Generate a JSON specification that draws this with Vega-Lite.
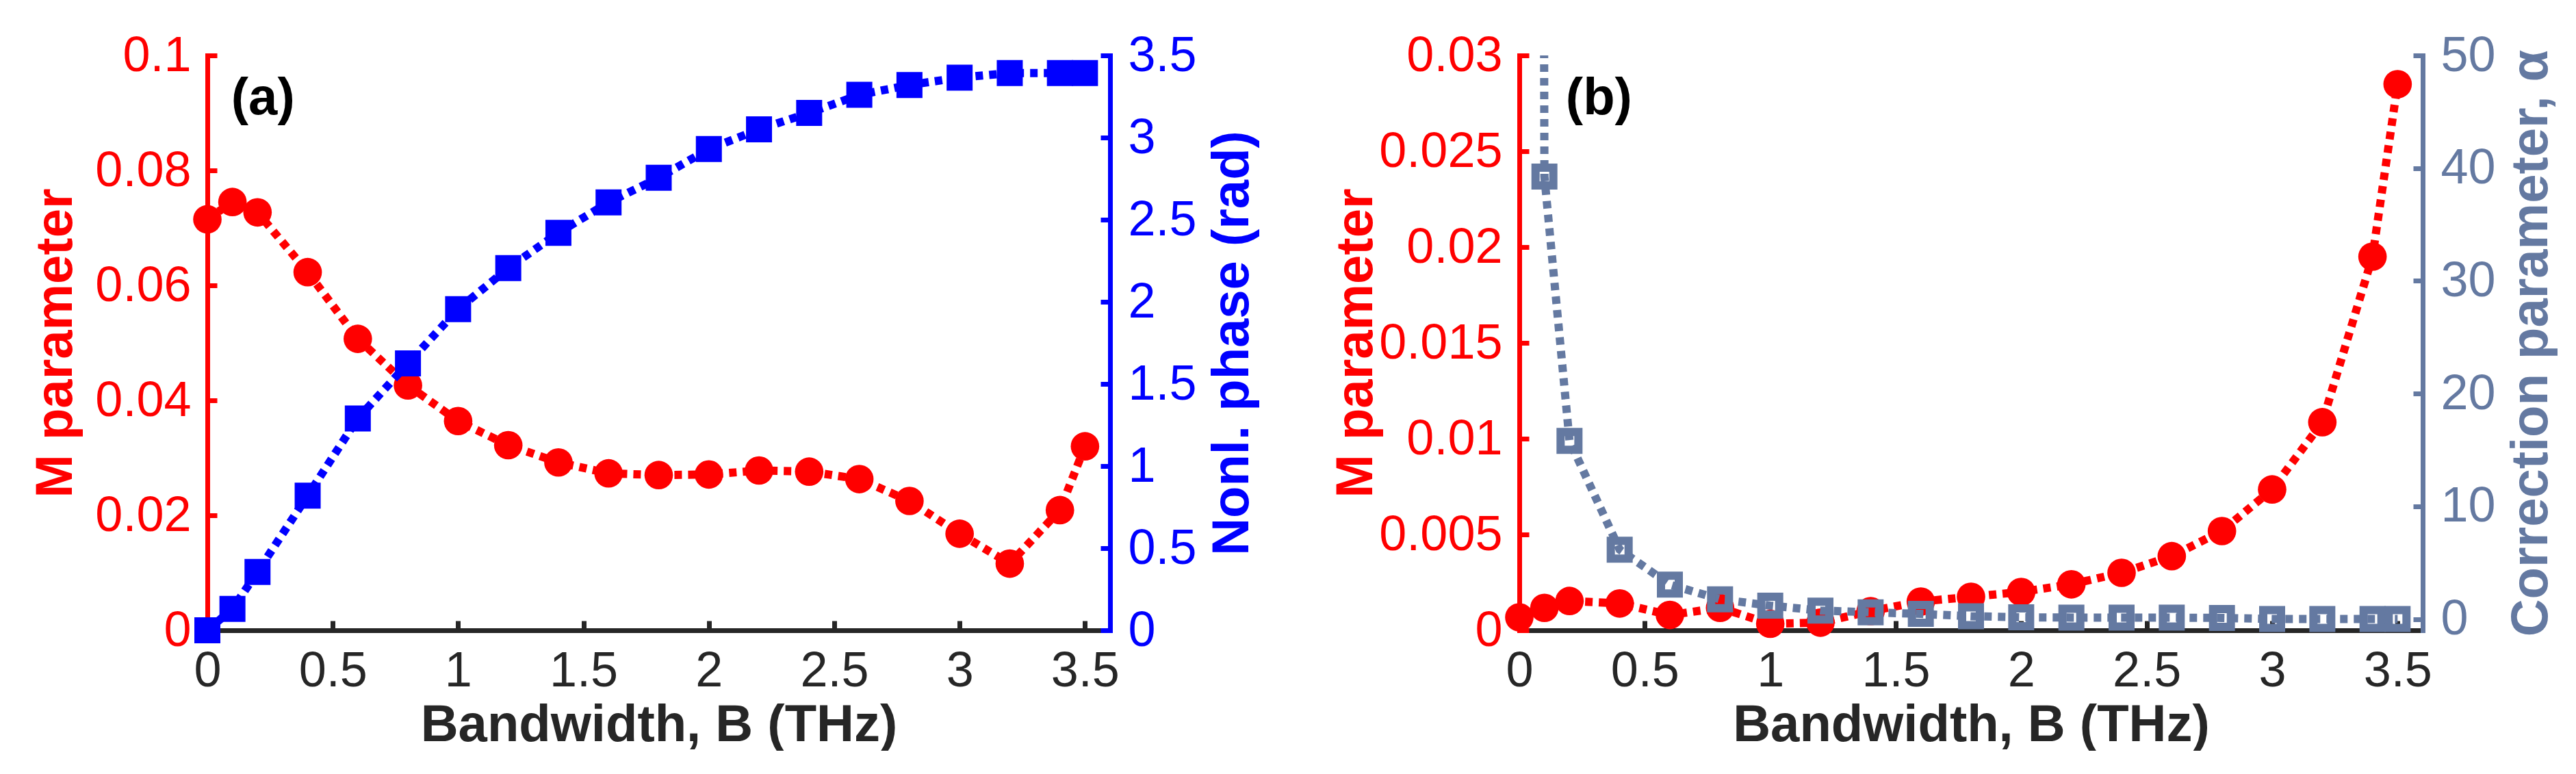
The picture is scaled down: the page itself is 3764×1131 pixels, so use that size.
{
  "$schema": "https://vega.github.io/schema/vega-lite/v6.json",
  "background": "white",
  "autosize": {"type": "pad"},
  "padding": {"left": 43, "top": 45, "right": 0, "bottom": 0},
  "spacing": 104,
  "datasets": {
    "a": [
      {"B": 0.0, "M": 0.0715, "phase": 0.0},
      {"B": 0.1, "M": 0.0745, "phase": 0.13},
      {"B": 0.2, "M": 0.0727, "phase": 0.355},
      {"B": 0.4, "M": 0.0623, "phase": 0.82},
      {"B": 0.6, "M": 0.0507, "phase": 1.29},
      {"B": 0.8, "M": 0.0426, "phase": 1.625},
      {"B": 1.0, "M": 0.0364, "phase": 1.955},
      {"B": 1.2, "M": 0.0322, "phase": 2.205},
      {"B": 1.4, "M": 0.0292, "phase": 2.42},
      {"B": 1.6, "M": 0.0273, "phase": 2.605},
      {"B": 1.8, "M": 0.027, "phase": 2.755},
      {"B": 2.0, "M": 0.0271, "phase": 2.93},
      {"B": 2.2, "M": 0.0278, "phase": 3.05},
      {"B": 2.4, "M": 0.0276, "phase": 3.15},
      {"B": 2.6, "M": 0.0263, "phase": 3.26},
      {"B": 2.8, "M": 0.0225, "phase": 3.32},
      {"B": 3.0, "M": 0.0168, "phase": 3.365},
      {"B": 3.2, "M": 0.0116, "phase": 3.393},
      {"B": 3.4, "M": 0.0209, "phase": 3.393},
      {"B": 3.5, "M": 0.032, "phase": 3.393}
    ],
    "b": [
      {"B": 0.0, "M": 0.00068, "alpha": 1000},
      {"B": 0.1, "M": 0.00117, "alpha": 39.26},
      {"B": 0.2, "M": 0.00153, "alpha": 15.8},
      {"B": 0.4, "M": 0.0014, "alpha": 6.15},
      {"B": 0.6, "M": 0.0008, "alpha": 3.05},
      {"B": 0.8, "M": 0.00117, "alpha": 1.75},
      {"B": 1.0, "M": 0.00034, "alpha": 1.19},
      {"B": 1.2, "M": 0.0004, "alpha": 0.75},
      {"B": 1.4, "M": 0.001, "alpha": 0.6},
      {"B": 1.6, "M": 0.0015, "alpha": 0.45},
      {"B": 1.8, "M": 0.00175, "alpha": 0.25},
      {"B": 2.0, "M": 0.002, "alpha": 0.15},
      {"B": 2.2, "M": 0.0024, "alpha": 0.13},
      {"B": 2.4, "M": 0.003, "alpha": 0.12},
      {"B": 2.6, "M": 0.00387, "alpha": 0.12},
      {"B": 2.8, "M": 0.00518, "alpha": 0.1},
      {"B": 3.0, "M": 0.00735, "alpha": 0.0},
      {"B": 3.2, "M": 0.01086, "alpha": 0.0},
      {"B": 3.4, "M": 0.0195, "alpha": 0.0},
      {"B": 3.5, "M": 0.0285, "alpha": 0.0}
    ],
    "labels_a": [{"label": "(a)", "lx": 0.095, "ly": 0.0925}],
    "labels_b": [{"label": "(b)", "lx": 0.185, "ly": 0.02775}]
  },
  "hconcat": [
    {
      "width": 1319,
      "height": 840,
      "encoding": {
        "x": {
          "field": "B", "type": "quantitative",
          "scale": {"domain": [0, 3.6], "nice": false, "zero": false},
          "axis": {
            "title": "Bandwidth, B (THz)",
            "values": [0, 0.5, 1, 1.5, 2, 2.5, 3, 3.5],
            "format": "~g",
            "domainColor": "#262626", "tickColor": "#262626",
            "labelColor": "#262626", "titleColor": "#262626",
            "labelPadding": 38, "titlePadding": 6
          }
        }
      },
      "layer": [
        {
          "data": {"name": "a"},
          "encoding": {
            "y": {
              "field": "M", "type": "quantitative",
              "scale": {"domain": [0, 0.1], "nice": false, "zero": false},
              "axis": {
                "title": "M parameter", "orient": "left",
                "values": [0, 0.02, 0.04, 0.06, 0.08, 0.1],
                "format": "~g",
                "domainColor": "#FF0000", "tickColor": "#FF0000",
                "labelColor": "#FF0000", "titleColor": "#FF0000",
                "labelPadding": 38, "titlePadding": 18
              }
            }
          },
          "layer": [
            {"mark": {"type": "line", "color": "#FF0000", "strokeWidth": 12, "strokeDash": [11, 9], "strokeCap": "butt"}},
            {"mark": {"type": "point", "shape": "circle", "filled": true, "color": "#FF0000", "size": 1735, "opacity": 1}}
          ]
        },
        {
          "data": {"name": "a"},
          "encoding": {
            "y": {
              "field": "phase", "type": "quantitative",
              "scale": {"domain": [0, 3.5], "nice": false, "zero": false},
              "axis": {
                "title": "Nonl. phase (rad)", "orient": "right",
                "values": [0, 0.5, 1, 1.5, 2, 2.5, 3, 3.5],
                "format": "~g",
                "domainColor": "#0000FF", "tickColor": "#0000FF",
                "labelColor": "#0000FF", "titleColor": "#0000FF",
                "labelPadding": 40, "titlePadding": 15,
                "titleAngle": 270, "titleBaseline": "top"
              }
            }
          },
          "layer": [
            {"mark": {"type": "line", "color": "#0000FF", "strokeWidth": 12, "strokeDash": [11, 9], "strokeCap": "butt"}},
            {"mark": {"type": "point", "shape": "square", "filled": true, "color": "#0000FF", "size": 1444, "opacity": 1}}
          ]
        },
        {
          "data": {"name": "labels_a"},
          "mark": {"type": "text", "font": "Liberation Sans", "fontWeight": "bold", "fontSize": 76, "align": "left", "baseline": "middle", "fill": "#000000"},
          "encoding": {
            "x": {"field": "lx", "type": "quantitative"},
            "y": {"field": "ly", "type": "quantitative", "scale": {"domain": [0, 0.1], "nice": false, "zero": false}, "axis": null},
            "text": {"field": "label", "type": "nominal"}
          }
        }
      ],
      "resolve": {"scale": {"y": "independent"}}
    },
    {
      "width": 1320,
      "height": 840,
      "encoding": {
        "x": {
          "field": "B", "type": "quantitative",
          "scale": {"domain": [0, 3.6], "nice": false, "zero": false},
          "axis": {
            "title": "Bandwidth, B (THz)",
            "values": [0, 0.5, 1, 1.5, 2, 2.5, 3, 3.5],
            "format": "~g",
            "domainColor": "#262626", "tickColor": "#262626",
            "labelColor": "#262626", "titleColor": "#262626",
            "labelPadding": 38, "titlePadding": 6
          }
        }
      },
      "layer": [
        {
          "data": {"name": "b"},
          "encoding": {
            "y": {
              "field": "M", "type": "quantitative",
              "scale": {"domain": [0, 0.03], "nice": false, "zero": false},
              "axis": {
                "title": "M parameter", "orient": "left",
                "values": [0, 0.005, 0.01, 0.015, 0.02, 0.025, 0.03],
                "format": "~g",
                "domainColor": "#FF0000", "tickColor": "#FF0000",
                "labelColor": "#FF0000", "titleColor": "#FF0000",
                "labelPadding": 39, "titlePadding": 0
              }
            }
          },
          "layer": [
            {"mark": {"type": "line", "color": "#FF0000", "strokeWidth": 12, "strokeDash": [11, 9], "strokeCap": "butt"}},
            {"mark": {"type": "point", "shape": "circle", "filled": true, "color": "#FF0000", "size": 1735, "opacity": 1}}
          ]
        },
        {
          "data": {"name": "b"},
          "encoding": {
            "y": {
              "field": "alpha", "type": "quantitative",
              "scale": {"domain": [-1, 50], "nice": false, "zero": false},
              "axis": {
                "title": "Correction parameter, α", "orient": "right",
                "values": [0, 10, 20, 30, 40, 50],
                "format": "d",
                "domainColor": "#6479A1", "tickColor": "#6479A1",
                "labelColor": "#6479A1", "titleColor": "#6479A1",
                "labelPadding": 40, "titlePadding": 15,
                "titleAngle": 270, "titleBaseline": "top"
              }
            }
          },
          "layer": [
            {"mark": {"type": "line", "color": "#6479A1", "strokeWidth": 12, "strokeDash": [11, 9], "strokeCap": "butt", "clip": true}},
            {
              "transform": [{"filter": "datum.alpha <= 50"}],
              "mark": {"type": "point", "shape": "square", "filled": false, "color": "#6479A1", "strokeWidth": 12, "size": 676, "opacity": 1}
            }
          ]
        },
        {
          "data": {"name": "labels_b"},
          "mark": {"type": "text", "font": "Liberation Sans", "fontWeight": "bold", "fontSize": 76, "align": "left", "baseline": "middle", "fill": "#000000"},
          "encoding": {
            "x": {"field": "lx", "type": "quantitative"},
            "y": {"field": "ly", "type": "quantitative", "scale": {"domain": [0, 0.03], "nice": false, "zero": false}, "axis": null},
            "text": {"field": "label", "type": "nominal"}
          }
        }
      ],
      "resolve": {"scale": {"y": "independent"}}
    }
  ],
  "config": {
    "view": {"stroke": null},
    "font": "Liberation Sans",
    "axis": {
      "labelFont": "Liberation Sans", "labelFontSize": 72,
      "titleFont": "Liberation Sans", "titleFontSize": 76, "titleFontWeight": "bold",
      "grid": false, "domainWidth": 7, "tickWidth": 7, "tickSize": -14,
      "labelFlush": false, "labelOverlap": false, "labelBound": false, "labelLimit": 0,
      "titleLimit": 0,
      "domainCap": "square", "tickCap": "butt"
    }
  }
}
